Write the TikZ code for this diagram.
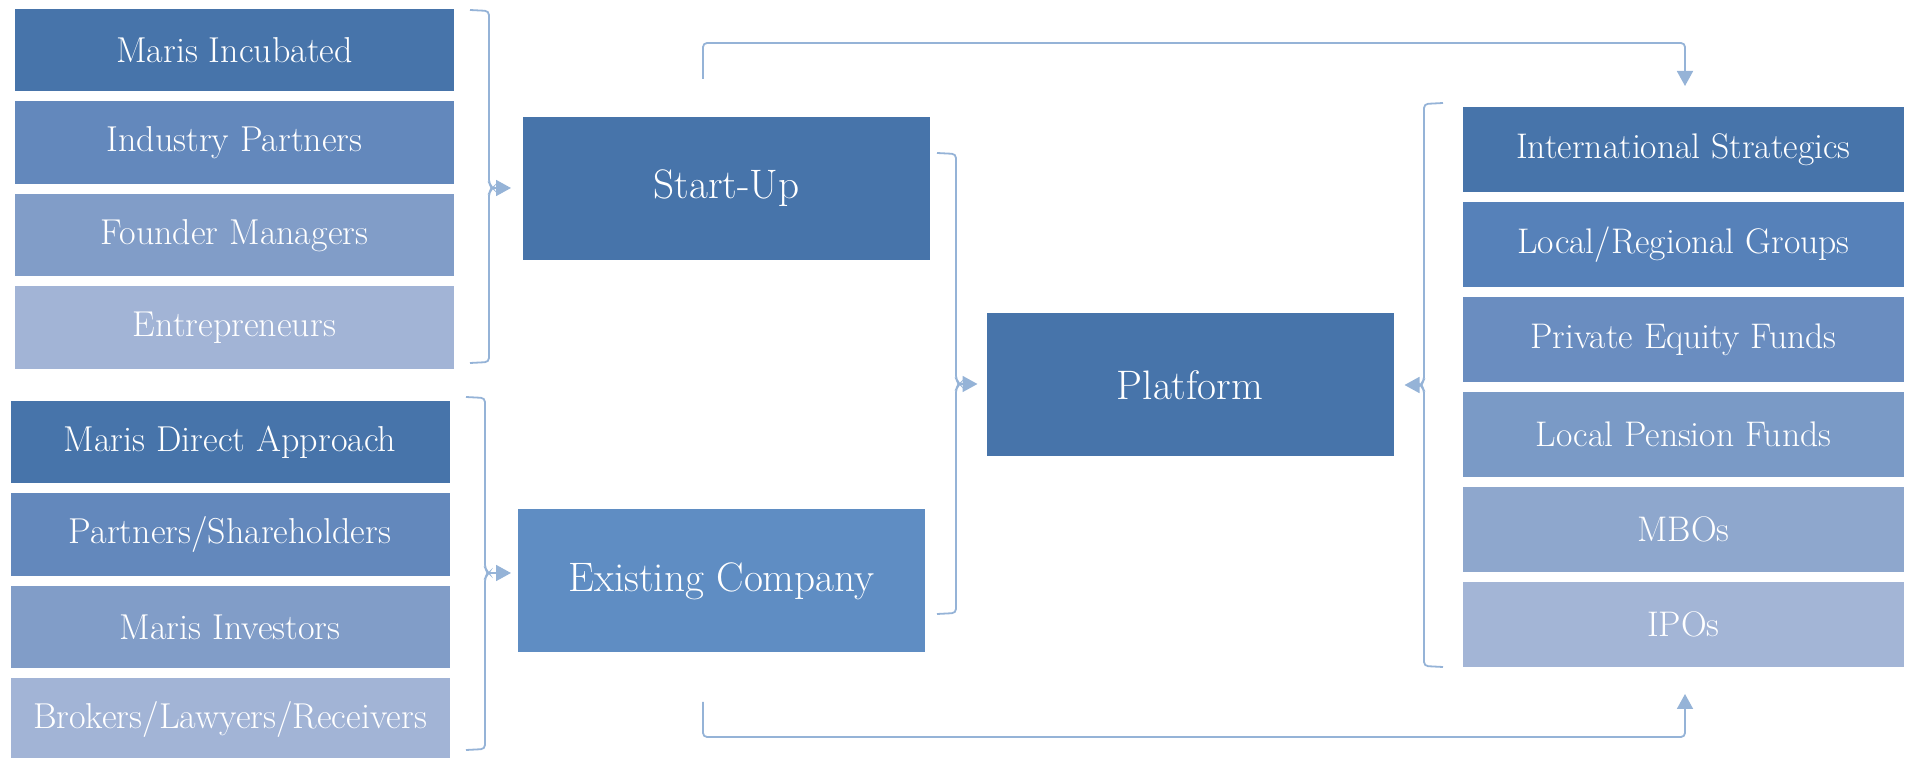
\documentclass[tikz,border=0pt]{standalone}
\usepackage{tikz}
\usetikzlibrary{arrows.meta,positioning}
\definecolor{deepblue}{HTML}{4774AA}
\definecolor{midblue}{HTML}{5F8DC3}
\definecolor{srcblueB}{HTML}{6388BC}
\definecolor{srcblueC}{HTML}{819DC8}
\definecolor{srcblueD}{HTML}{A2B4D6}
\definecolor{exitblueB}{HTML}{5681B9}
\definecolor{exitblueC}{HTML}{6A8DC0}
\definecolor{exitblueD}{HTML}{7A9AC6}
\definecolor{exitblueE}{HTML}{8EA7CD}
\definecolor{exitblueF}{HTML}{A3B5D6}
\definecolor{linkblue}{HTML}{95B3D7}

\begin{document}
\begin{tikzpicture}[x=0.5pt, y=-0.5pt,
	every node/.style={text=white, inner sep=0pt, outer sep=0pt, align=center},
	srcbox/.style={fill=#1, minimum width=219.5pt, minimum height=41.25pt, font=\fontsize{18}{21}\selectfont},
	exitbox/.style={fill=#1, minimum width=220.5pt, minimum height=42.5pt, font=\fontsize{17.8}{21}\selectfont},
	stagebox/.style={fill=#1, minimum width=203.5pt, minimum height=71.5pt, font=\fontsize{20.6}{24}\selectfont},
	curly/.style={draw=linkblue, line width=0.9pt, rounded corners=2pt},
	flow/.style={draw=linkblue, line width=0.9pt, -{Triangle[length=7.5pt,width=8pt]}}]
	\useasboundingbox (0,0) rectangle (1908,758);
	% sources of a start-up
	\node[srcbox=deepblue] (incub) at (234.5,50.25) {Maris Incubated};
	\node[srcbox=srcblueB, below=5pt of incub] (indus) {Industry Partners};
	\node[srcbox=srcblueC, below=5pt of indus] (founder) {Founder Managers};
	\node[srcbox=srcblueD, below=5pt of founder] (entre) {Entrepreneurs};
	% sources of an existing company
	\node[srcbox=deepblue] (direct) at (230,442.25) {Maris Direct Approach};
	\node[srcbox=srcblueB, below=5pt of direct] (partners) {Partners/Shareholders};
	\node[srcbox=srcblueC, below=5pt of partners] (investors) {Maris Investors};
	\node[srcbox=srcblueD, below=5pt of investors] (brokers) {Brokers/Lawyers/Receivers};
	% stages
	\node[stagebox=deepblue] (start) at (726.5,188.5) {Start-Up};
	\node[stagebox=midblue] (exist) at (721.5,581) {Existing Company};
	\node[stagebox=deepblue] (platform) at (1190,385) {Platform};
	% exits
	\node[exitbox=deepblue] (intl) at (1683.5,149.5) {International Strategics};
	\node[exitbox=exitblueB, below=5pt of intl] (regional) {Local/Regional Groups};
	\node[exitbox=exitblueC, below=5pt of regional] (pefunds) {Private Equity Funds};
	\node[exitbox=exitblueD, below=5pt of pefunds] (pension) {Local Pension Funds};
	\node[exitbox=exitblueE, below=5pt of pension] (mbo) {MBOs};
	\node[exitbox=exitblueF, below=5pt of mbo] (ipo) {IPOs};
	% braces
	\coordinate (tipA) at (493,188);
	\coordinate (tipB) at (489,573);
	\coordinate (tipC) at (960,384);
	\coordinate (tipD) at (1420,385);
	\draw[curly] (470,10) -- (489,11) -- (489,184) -- (tipA) -- (489,192) -- (489,362) -- (470,363);
	\draw[curly] (466,397) -- (485,398) -- (485,569) -- (tipB) -- (485,577) -- (485,749) -- (466,750);
	\draw[curly] (937,153) -- (956,154) -- (956,380) -- (tipC) -- (956,388) -- (956,613) -- (937,614);
	\draw[curly] (1443,103) -- (1424,104) -- (1424,381) -- (tipD) -- (1424,389) -- (1424,666) -- (1443,667);
	% arrows
	\draw[flow, shorten >=6pt] (tipA) -- (tipA -| start.west);
	\draw[flow, shorten >=3.5pt] (tipB) -- (tipB -| exist.west);
	\draw[flow, shorten >=4.5pt] (tipC) -- (tipC -| platform.west);
	\draw[flow, shorten >=5.5pt] (tipD) -- (tipD -| platform.east);
	% bypass routes
	\coordinate (upA) at (703,79);
	\coordinate (upB) at (1685,86);
	\coordinate (lowA) at (703,702);
	\coordinate (lowB) at (1685,694);
	\draw[flow, rounded corners=2pt] (upA) -- ++(0,-36) -| (upB);
	\draw[flow, rounded corners=2pt] (lowA) -- ++(0,35) -| (lowB);
\end{tikzpicture}
\end{document}
